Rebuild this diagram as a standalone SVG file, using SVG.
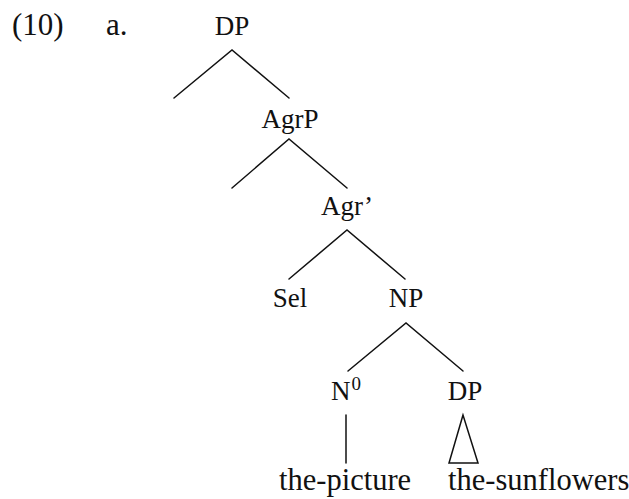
<svg xmlns="http://www.w3.org/2000/svg" width="629" height="499" viewBox="0 0 629 499">
<style>
text{font-family:"Liberation Serif","Times New Roman",serif;font-size:27px;fill:#111;}
.m{text-anchor:middle;}
.big{font-size:31px;}
.leaf{font-size:30.5px;}
.e{stroke:#111;stroke-width:1.5;fill:none;stroke-linecap:round;stroke-linejoin:miter;}
</style>
<rect width="629" height="499" fill="#fff"/>
<g id="label">
<text class="big" x="12" y="35">(10)</text>
<text class="big" x="106" y="35">a.</text>
</g>
<g id="n-dp"><text class="m" x="232" y="35">DP</text></g>
<g id="n-agrp"><text class="m" x="290" y="128">AgrP</text></g>
<g id="n-agrbar"><text class="m" x="347" y="215">Agr’</text></g>
<g id="n-sel"><text class="m" x="290" y="307">Sel</text></g>
<g id="n-np"><text class="m" x="406" y="307">NP</text></g>
<g id="n-n0"><text x="331" y="400">N<tspan font-size="19" dx="1" dy="-10">0</tspan></text></g>
<g id="n-dp2"><text class="m" x="465" y="400">DP</text></g>
<g id="n-picture"><text class="leaf" x="279" y="490">the-picture</text></g>
<g id="n-sunflowers"><text class="leaf" x="448" y="490">the-sunflowers</text></g>
<g id="connectors" class="e">
<path class="e" d="M174,98 L232,50 L289,98"/>
<path class="e" d="M232,188 L289,139 L347,188"/>
<path class="e" d="M289,279 L347,230 L405,279"/>
<path class="e" d="M348,371 L406,323 L463,371"/>
<path class="e" d="M346,415 L346,463"/>
<path class="e" d="M463,415 L449,463 L478,463 Z"/>
</g>
</svg>
